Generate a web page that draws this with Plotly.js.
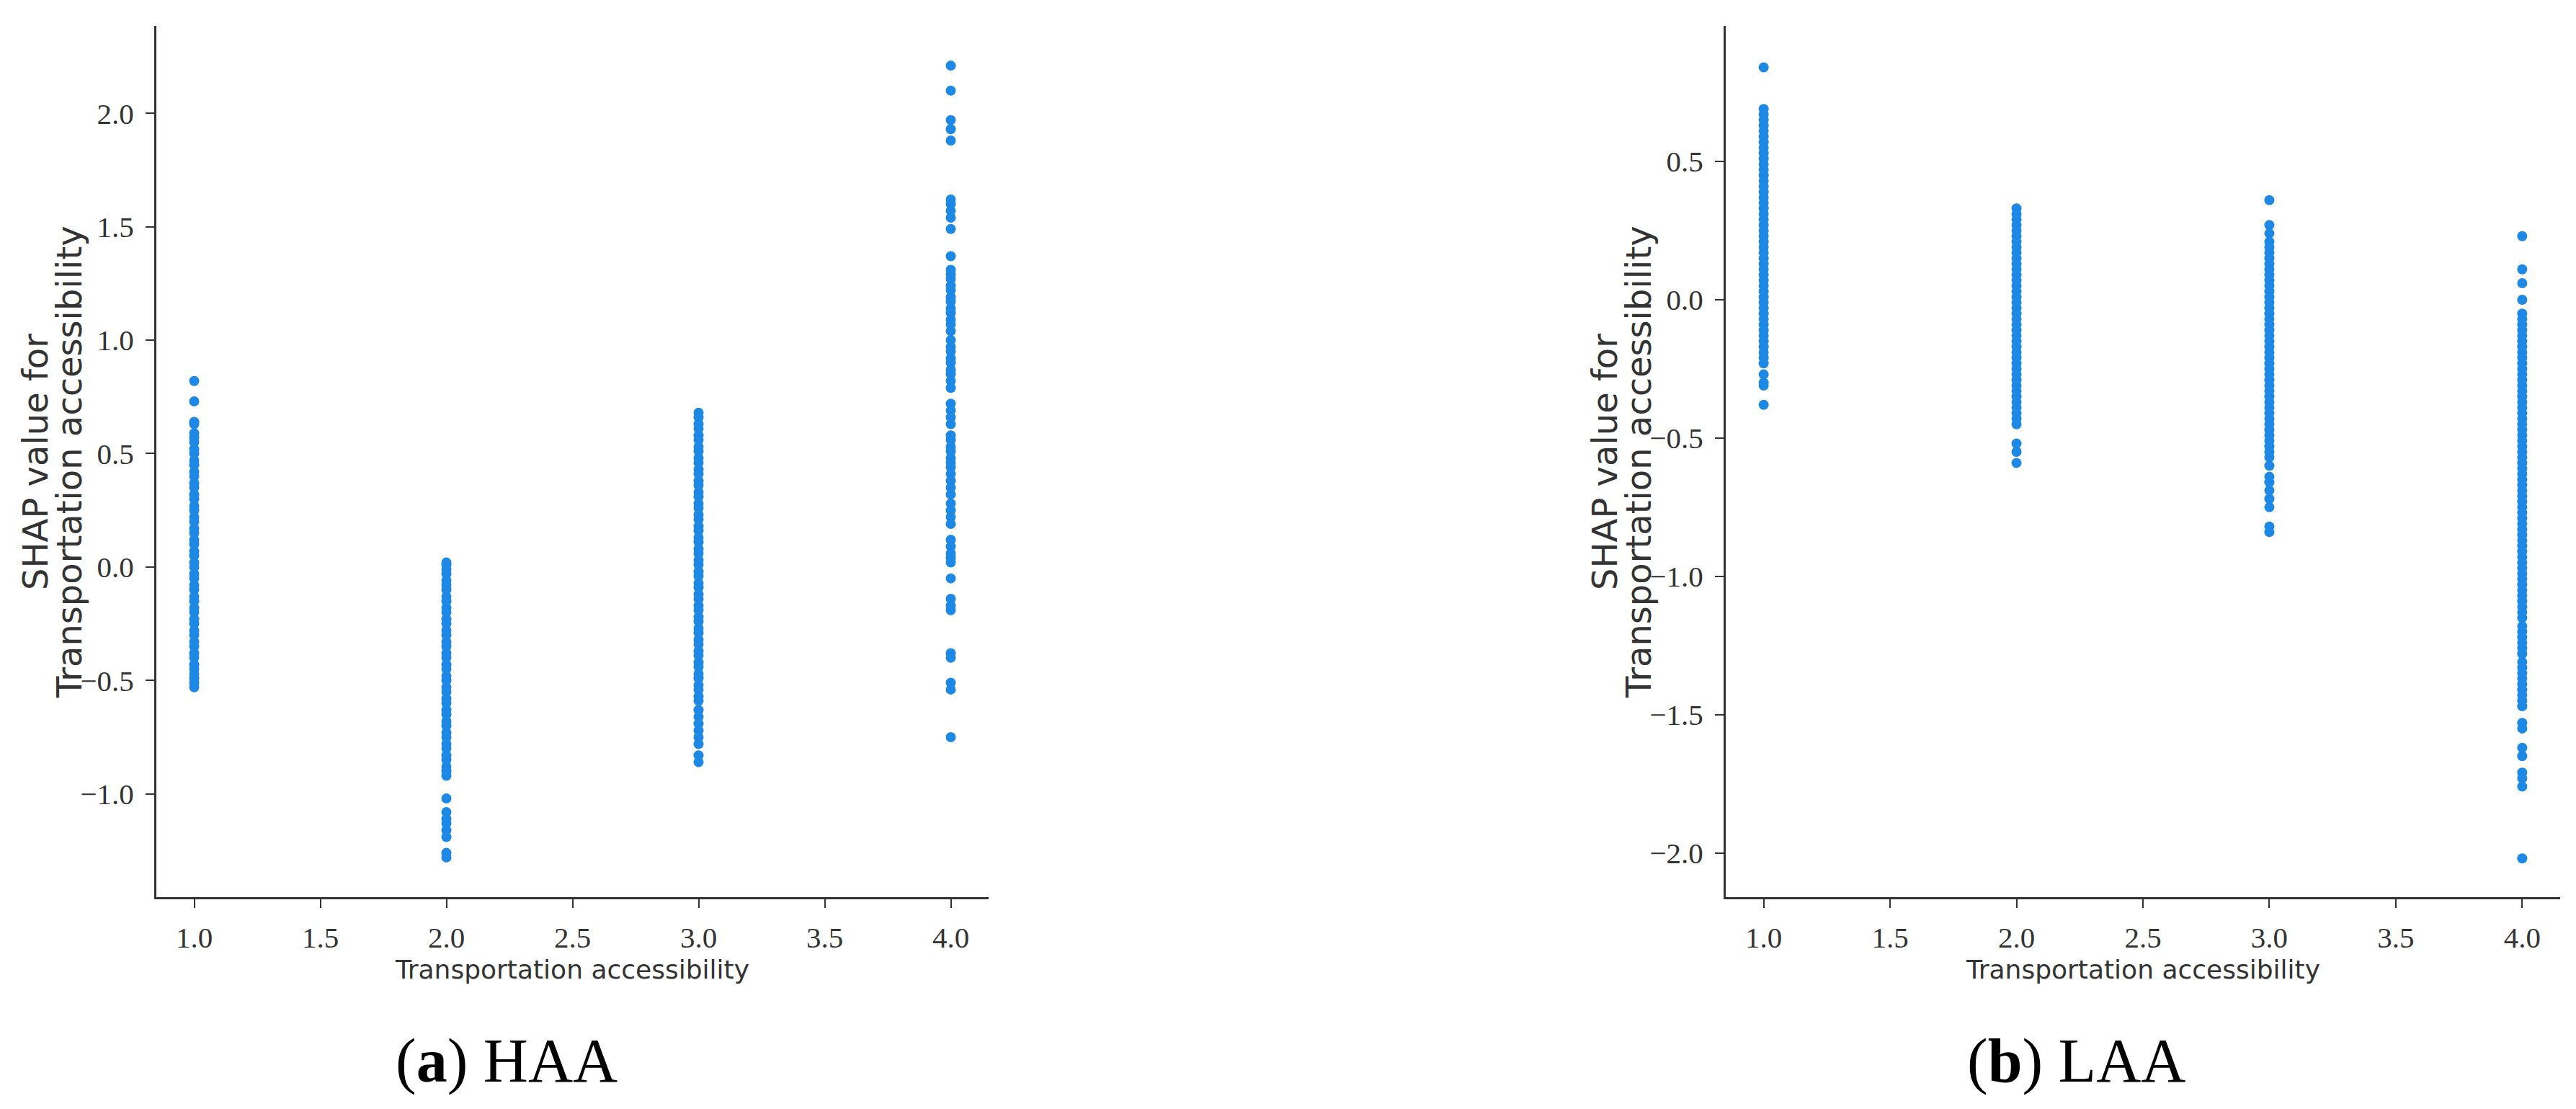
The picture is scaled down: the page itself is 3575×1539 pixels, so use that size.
<!DOCTYPE html>
<html>
<head>
<meta charset="utf-8">
<script src="https://cdn.plot.ly/plotly-3.0.1.min.js"></script>
<style>html,body{margin:0;padding:0;background:#fff;}#chart{width:3575px;height:1539px;}</style>
</head>
<body>
<div id="chart"></div>
<script>
// ---- data ----
const categories = [1.0, 2.0, 3.0, 4.0];
const xTickVals = [1.0, 1.5, 2.0, 2.5, 3.0, 3.5, 4.0];
const xTickText = ["1.0", "1.5", "2.0", "2.5", "3.0", "3.5", "4.0"];
const haaYTicks = [-1.0, -0.5, 0.0, 0.5, 1.0, 1.5, 2.0];
const haaYText = ["\u22121.0", "\u22120.5", "0.0", "0.5", "1.0", "1.5", "2.0"];
const laaYTicks = [-2.0, -1.5, -1.0, -0.5, 0.0, 0.5];
const laaYText = ["\u22122.0", "\u22121.5", "\u22121.0", "\u22120.5", "0.0", "0.5"];

// HAA SHAP values per category
const haa1 = [0.82, 0.73, 0.64, 0.63, 0.59, 0.57, 0.55, 0.52, 0.50, 0.47, 0.45, 0.42, 0.40, 0.37, 0.35, 0.32, 0.30, 0.27, 0.25, 0.22, 0.20, 0.17, 0.15, 0.12, 0.10, 0.07, 0.05, 0.02, 0.00, -0.03, -0.05, -0.08, -0.10, -0.13, -0.15, -0.18, -0.20, -0.23, -0.25, -0.28, -0.30, -0.33, -0.35, -0.38, -0.40, -0.43, -0.45, -0.47, -0.49, -0.51, -0.53];
const haa2 = [0.02, 0.01, -0.01, -0.03, -0.06, -0.08, -0.10, -0.13, -0.15, -0.18, -0.20, -0.23, -0.25, -0.28, -0.30, -0.33, -0.35, -0.38, -0.40, -0.43, -0.45, -0.48, -0.50, -0.53, -0.55, -0.58, -0.60, -0.63, -0.65, -0.68, -0.70, -0.73, -0.75, -0.78, -0.80, -0.83, -0.85, -0.88, -0.90, -0.92, -1.02, -1.08, -1.11, -1.13, -1.16, -1.19, -1.26, -1.28];
const haa3 = [0.68, 0.66, 0.63, 0.61, 0.58, 0.56, 0.53, 0.51, 0.48, 0.46, 0.43, 0.41, 0.38, 0.36, 0.33, 0.31, 0.28, 0.26, 0.23, 0.21, 0.18, 0.16, 0.13, 0.11, 0.08, 0.06, 0.03, 0.01, -0.02, -0.04, -0.07, -0.09, -0.12, -0.14, -0.17, -0.19, -0.22, -0.24, -0.27, -0.29, -0.32, -0.34, -0.37, -0.39, -0.42, -0.44, -0.47, -0.49, -0.52, -0.54, -0.57, -0.59, -0.63, -0.66, -0.69, -0.72, -0.75, -0.78, -0.83, -0.86];
const haa4 = [2.21, 2.10, 1.97, 1.93, 1.88, 1.62, 1.60, 1.57, 1.54, 1.49, 1.37, 1.31, 1.29, 1.27, 1.24, 1.22, 1.19, 1.17, 1.14, 1.12, 1.09, 1.07, 1.04, 1.00, 0.97, 0.95, 0.92, 0.90, 0.87, 0.85, 0.82, 0.79, 0.72, 0.69, 0.66, 0.63, 0.58, 0.56, 0.53, 0.51, 0.48, 0.46, 0.44, 0.41, 0.38, 0.35, 0.32, 0.28, 0.25, 0.22, 0.19, 0.12, 0.09, 0.06, 0.04, 0.02, -0.05, -0.14, -0.17, -0.19, -0.38, -0.40, -0.51, -0.54, -0.75];

// LAA SHAP values per category
const laa1 = [0.84, 0.69, 0.67, 0.65, 0.63, 0.61, 0.59, 0.57, 0.55, 0.53, 0.51, 0.49, 0.47, 0.45, 0.43, 0.41, 0.39, 0.37, 0.35, 0.33, 0.31, 0.29, 0.27, 0.25, 0.23, 0.21, 0.19, 0.17, 0.15, 0.13, 0.11, 0.09, 0.07, 0.05, 0.03, 0.01, -0.01, -0.03, -0.05, -0.07, -0.09, -0.11, -0.13, -0.15, -0.17, -0.19, -0.21, -0.23, -0.27, -0.30, -0.31, -0.38];
const laa2 = [0.33, 0.31, 0.29, 0.27, 0.25, 0.23, 0.21, 0.19, 0.17, 0.15, 0.13, 0.11, 0.09, 0.07, 0.05, 0.03, 0.01, -0.01, -0.03, -0.05, -0.07, -0.09, -0.11, -0.13, -0.15, -0.17, -0.19, -0.21, -0.23, -0.25, -0.27, -0.29, -0.31, -0.33, -0.35, -0.37, -0.39, -0.41, -0.43, -0.45, -0.52, -0.55, -0.59];
const laa3 = [0.36, 0.27, 0.24, 0.21, 0.19, 0.17, 0.15, 0.13, 0.11, 0.09, 0.07, 0.05, 0.03, 0.01, -0.01, -0.03, -0.05, -0.07, -0.09, -0.11, -0.13, -0.15, -0.17, -0.19, -0.21, -0.23, -0.25, -0.27, -0.29, -0.31, -0.33, -0.35, -0.37, -0.39, -0.41, -0.43, -0.45, -0.47, -0.49, -0.51, -0.53, -0.55, -0.57, -0.60, -0.64, -0.66, -0.69, -0.72, -0.75, -0.82, -0.84];
const laa4 = [0.23, 0.11, 0.06, 0.00, -0.05, -0.07, -0.09, -0.11, -0.13, -0.15, -0.17, -0.19, -0.21, -0.23, -0.25, -0.27, -0.29, -0.31, -0.33, -0.35, -0.37, -0.39, -0.41, -0.43, -0.45, -0.47, -0.49, -0.51, -0.53, -0.55, -0.57, -0.59, -0.61, -0.63, -0.65, -0.67, -0.69, -0.71, -0.73, -0.75, -0.77, -0.79, -0.81, -0.83, -0.85, -0.87, -0.89, -0.91, -0.93, -0.95, -0.97, -0.99, -1.01, -1.03, -1.05, -1.07, -1.09, -1.11, -1.13, -1.15, -1.18, -1.20, -1.22, -1.24, -1.26, -1.28, -1.31, -1.33, -1.35, -1.37, -1.39, -1.41, -1.43, -1.45, -1.47, -1.53, -1.55, -1.62, -1.65, -1.71, -1.73, -1.76, -2.02];

const haaSeries = [haa1, haa2, haa3, haa4];
const laaSeries = [laa1, laa2, laa3, laa4];

const xTitle = "Transportation accessibility";
const yTitleLines = ["SHAP value for", "Transportation accessibility"];
const captions = ["(<b>a</b>) HAA", "(<b>b</b>) LAA"];

// ---- layout geometry (pixels of the 3575x1539 canvas) ----
const W = 3575, H = 1539;
const px = v => v / W;
const py = v => (H - v) / H;
const BLUE = "#1E88E5";
const AX = "#333333";

const traces = [];
function addStrips(series, xa, ya) {
  series.forEach((vals, i) => {
    traces.push({
      type: "scatter", mode: "markers",
      x: vals.map(() => categories[i]), y: vals,
      xaxis: xa, yaxis: ya, showlegend: false, hoverinfo: "skip",
      marker: {color: BLUE, size: 14, line: {width: 0}}
    });
  });
}
addStrips(haaSeries, "x", "y");
addStrips(laaSeries, "x2", "y2");

const tickFont = {family: "Liberation Serif, Times New Roman, serif", size: 41, color: AX};
function xAxis(domain, anchor) {
  return {domain: domain, anchor: anchor, range: [0.85, 4.15], showline: true, linecolor: AX, linewidth: 3,
    ticks: "outside", ticklen: 12, tickwidth: 2, tickcolor: AX, tickvals: xTickVals, ticktext: xTickText,
    tickfont: tickFont, showgrid: false, zeroline: false, mirror: false, ticklabelstandoff: 6};
}
function yAxis(range, tv, tt, anchor) {
  return {domain: [py(1245), py(36)], anchor: anchor, range: range, showline: true, linecolor: AX, linewidth: 3,
    ticks: "outside", ticklen: 12, tickwidth: 2, tickcolor: AX, tickvals: tv, ticktext: tt,
    tickfont: tickFont, showgrid: false, zeroline: false, mirror: false, ticklabelstandoff: 8};
}

const titleFont = {family: "DejaVu Sans, Verdana, sans-serif", size: 36, color: AX};
const yTitleFont = {family: "DejaVu Sans, Verdana, sans-serif", size: 48, color: AX};
const capFont = {family: "Liberation Serif, Times New Roman, serif", size: 86, color: "#000"};

function ann(text, x, y, font, angle) {
  const a = {text: text, x: px(x), y: py(y), xref: "paper", yref: "paper", xanchor: "center", yanchor: "middle", showarrow: false, font: font};
  if (angle) a.textangle = angle;
  return a;
}
const annotations = [
  ann(xTitle, 794, 1345, titleFont),
  ann(xTitle, 2974, 1345, titleFont),
  ann(yTitleLines[0], 49, 641, yTitleFont, -90),
  ann(yTitleLines[1], 96, 641, yTitleFont, -90),
  ann(yTitleLines[0], 2227, 641, yTitleFont, -90),
  ann(yTitleLines[1], 2274, 641, yTitleFont, -90),
  ann(captions[0], 703, 1472, capFont),
  ann(captions[1], 2881, 1472, capFont)
];

const layout = {
  width: W, height: H, margin: {l: 0, r: 0, t: 0, b: 0},
  paper_bgcolor: "#ffffff", plot_bgcolor: "#ffffff", showlegend: false,
  xaxis: xAxis([px(217), px(1372)], "y"),
  yaxis: yAxis([-1.455, 2.385], haaYTicks, haaYText, "x"),
  xaxis2: xAxis([px(2395), px(3553)], "y2"),
  yaxis2: yAxis([-2.16, 0.99], laaYTicks, laaYText, "x2"),
  annotations: annotations
};

Plotly.newPlot("chart", traces, layout, {staticPlot: true, displayModeBar: false});
</script>
</body>
</html>
